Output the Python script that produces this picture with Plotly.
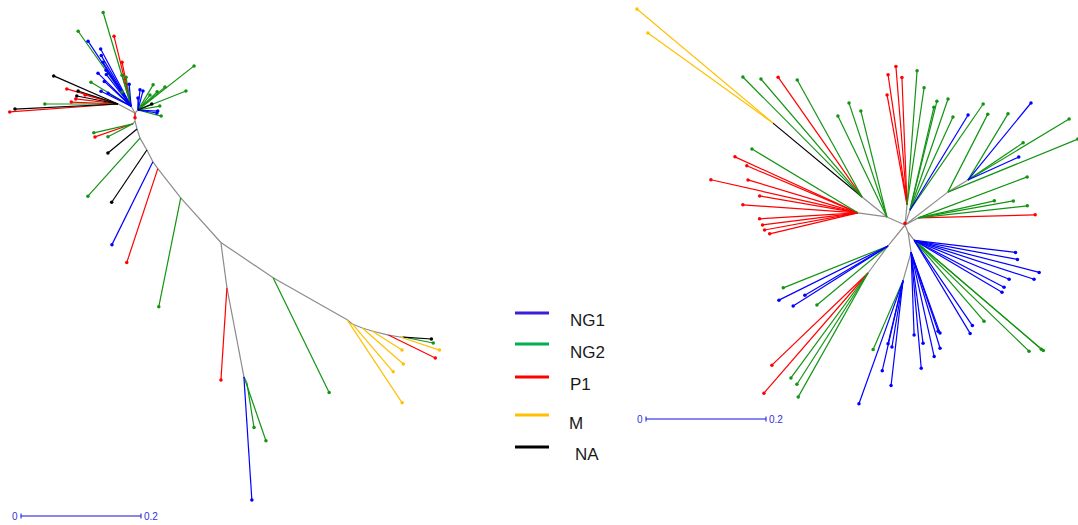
import math
import plotly.graph_objects as go

# Branch lengths are in substitutions/site; 0.2 units -> 120 px on screen.
PX_PER_UNIT = 600

GROUP_COLORS = {"NG1": "#0000FF", "NG2": "#129412", "P1": "#FF0000",
                "M": "#FFC000", "NA": "#000000", "": "#8C8C8C"}
LEGEND_GROUPS = ["NG1", "NG2", "P1", "M", "NA"]
LEGEND_COLORS = ["#3A1FD6", "#00B050", "#FF0000", "#FFC000", "#000000"]

# ---------------- left tree ----------------
left_root_xy = (135, 113)
left_node_name = ["B0", "B1", "B2", "B3", "B4", "B5", "B6", "B7", "B8", "B9", "B10",
                  "C1", "C2", "C3", "C4", "C5", "C6", "B12", "B13", "B14", "B1b",
                  "U", "Lf", "R"]
left_node_parent = [None, "B0", "B1", "B2", "B3", "B4", "B5", "B6", "B7", "B8", "B9",
                    "B10", "C1", "C2", "C3", "C4", "C5", "B8", "B12", "B13", "B1",
                    "B0", "B0", "B0"]
left_node_len = [0, 0.013, 0.014, 0.016, 0.023, 0.022, 0.014, 0.062, 0.100, 0.105, 0.142,
                 0.011, 0.018, 0.017, 0.028, 0.020, 0.005, 0.076, 0.151, 0.011, 0.006,
                 0.013, 0.032, 0.007]
left_node_angle = [0, -90, -76, -72, -60, -63, -54, -52, -48, -34, -29.6,
                   -39, -22, -17, -14, -9.5, 0, -82.4, -79.2, -63, -123.7,
                   120, 152.1, 45]
left_node_group = [""] * len(left_node_name)

left_leaf_parent = [
    "B0",
    "U", "U", "U", "U", "U", "U", "U", "U", "U", "U",
    "U", "U", "U", "U", "U", "U", "U", "U", "U",
    "Lf", "Lf", "Lf", "Lf", "Lf", "Lf", "Lf", "Lf", "Lf", "Lf",
    "R", "R", "R", "R", "R", "R", "R", "R", "R", "R", "R", "R", "R", "R",
    "B1b", "B1b", "B1b",
    "B2", "B3", "B4", "B5", "B6", "B7", "B9",
    "B10", "C1", "C2", "C3", "C4", "C5", "C6", "C6",
    "B12", "B13", "B13", "B14",
]
left_leaf_group = [
    "P1",
    "NG2", "NG2", "NG1", "P1", "NG1", "NG1", "NG1", "NG1", "NG1", "NG1",
    "P1", "NG2", "NG2", "NG2", "NG2", "NG1", "NG1", "NG1", "NG1",
    "NA", "P1", "NA", "NA", "P1", "P1", "NG2", "NA", "P1", "P1",
    "NG2", "NG2", "NG2", "NG2", "NG2", "NG1", "NG1", "NG1", "NA", "NG1", "NG1", "NG2", "NG2", "NG2",
    "NG2", "P1", "NG2",
    "NA", "NG2", "NA", "NG1", "P1", "NG2", "NG2",
    "M", "M", "M", "M", "P1", "M", "NG2", "NA",
    "P1", "NG1", "NG2", "NG2",
]
left_leaf_angle = [
    -90,
    106.6, 125.2, 123.5, 103.7, 120.5, 122.5, 135, 137.2, 153.4, 150.5,
    101.6, 149, 106.2, 99.8, 122.7, 124.8, 118, 128, 95,
    156.4, 163.6, 162, 169, 177.6, 173.2, 180, -177.2, -175.8, 164.7,
    38.2, 21.6, 59, 40.4, 51.3, 84.3, 75.3, 90, 23.2, -2.9, -9, -14.6, 43.5, 10.3,
    -167, -161, -152.5,
    -140.4, -131.9, -124, -116.3, -108.3, -101.4, -64,
    -56.5, -49.5, -41.3, -32.3, -26, -18.4, -11.3, -4,
    -93.7, -86.3, -71, -81,
]
left_leaf_len = [
    0.008,
    0.163, 0.153, 0.130, 0.120, 0.098, 0.087, 0.078, 0.061, 0.056, 0.044,
    0.075, 0.078, 0.054, 0.049, 0.028, 0.073, 0.108, 0.067, 0.037,
    0.117, 0.089, 0.070, 0.070, 0.078, 0.071, 0.122, 0.172, 0.181, 0.057,
    0.119, 0.086, 0.049, 0.059, 0.032, 0.034, 0.033, 0.020, 0.025, 0.033, 0.032, 0.040, 0.044, 0.037,
    0.067, 0.067, 0.047,
    0.063, 0.130, 0.105, 0.154, 0.165, 0.185, 0.213,
    0.166, 0.105, 0.091, 0.059, 0.087, 0.069, 0.051, 0.047,
    0.154, 0.206, 0.113, 0.076,
]

# ---------------- right tree ----------------
right_root_xy = (905, 225)
right_node_name = ["H", "UL", "RED", "LONG", "Y", "TOP", "A", "B", "C", "D",
                   "DN", "BR", "DM", "DL", "LL", "L2"]
right_node_parent = [None, "H", "UL", "UL", "LONG", "H", "H", "H", "B", "H",
                     "H", "DN", "DN", "DM", "H", "LL"]
right_node_len = [0, 0.033, 0.049, 0.053, 0.193, 0.034, 0.026, 0.090, 0.039, 0.025,
                  0.013, 0.017, 0.034, 0.049, 0.045, 0.056]
right_node_angle = [0, 156, 172, 141.3, 140.3, 84.3, 71.6, 37.5, 31, 28.3,
                    -66.8, -53, -81.5, -105.9, -129, -126.5]
right_node_group = ["", "", "", "", "NA", "", "", "", "", "",
                    "", "", "", "", "", ""]

right_leaf_parent = [
    "H",
    "LONG", "LONG", "LONG", "LONG",
    "Y", "Y",
    "RED", "RED", "RED", "RED", "RED", "RED", "RED", "RED", "RED", "RED", "RED",
    "UL", "UL", "UL",
    "TOP", "TOP", "TOP", "TOP", "TOP", "TOP",
    "A", "A", "A", "A", "A", "A",
    "B", "B",
    "C", "C", "C", "C", "C",
    "D", "D", "D", "D", "D",
    "BR", "BR", "BR", "BR", "BR", "BR", "BR", "BR", "BR", "BR", "BR", "BR", "BR",
    "DM", "DM", "DM", "DM", "DM", "DM", "DM",
    "DL", "DL", "DL", "DL", "DL", "DL",
    "LL", "LL", "LL", "LL", "LL",
    "L2", "L2", "L2", "L2", "L2",
]
right_leaf_group = [
    "P1",
    "NG2", "NG2", "P1", "NG2",
    "M", "M",
    "NG2", "P1", "P1", "P1", "P1", "P1", "P1", "P1", "P1", "P1", "P1",
    "NG2", "NG2", "NG2",
    "P1", "P1", "P1", "P1", "NG2", "NG2",
    "NG2", "NG2", "NG2", "NG2", "NG1", "NG2",
    "NG2", "NG2",
    "NG1", "NG2", "NG2", "NG1", "NG2",
    "NG2", "NG2", "NG2", "NG2", "P1",
    "NG1", "NG1", "NG1", "NG1", "NG1", "NG1", "NG1", "NG2", "NG1", "NG1", "NG2", "NG2", "NG2",
    "NG1", "NG1", "NG1", "NG1", "NG1", "NG1", "NG1",
    "NG1", "NG1", "NG2", "NG1", "NG1", "NG1",
    "NG2", "NG1", "NG1", "NG1", "NG2",
    "P1", "P1", "NG2", "NG2", "NG2",
]
right_leaf_angle = [
    90,
    134.8, 130.6, 125, 119,
    140, 144.2,
    148.9, 155.5, 157, 167.3, 163.3, 170.2, 176, -176.5, -172.8, -169.6, -166.6,
    115.9, 108.4, 103.8,
    94.6, 98.3, 92.3, 100.3, 85.7, 81.7,
    76.1, 76.9, 71.1, 65.2, 58.6, 55.4,
    62.9, 22.2,
    50.7, 58.8, 34, 24.3, 31.1,
    20.6, 12.6, 10.1, 6.3, 1.5,
    -6.8, -10.5, -14.4, -18, -22.3, -27.6, -30.6, -49.2, -55.7, -59, -44, -40.6, -40.5,
    -87.9, -82.5, -77.5, -85, -71.1, -70.3, -73.2,
    -103.4, -99.5, -113.5, -96.5, -109.7, -103,
    -158.2, -153.6, -149.4, -147.7, -140.3,
    -136.2, -130.9, -126.3, -122.6, -119.4,
]
right_leaf_len = [
    0.003,
    0.282, 0.259, 0.244, 0.223,
    0.296, 0.257,
    0.206, 0.225, 0.201, 0.251, 0.191, 0.166, 0.192, 0.164, 0.160, 0.158, 0.151,
    0.187, 0.200, 0.182,
    0.231, 0.219, 0.212, 0.186, 0.224, 0.197,
    0.187, 0.176, 0.196, 0.171, 0.186, 0.215,
    0.146, 0.234,
    0.166, 0.129, 0.111, 0.093, 0.197,
    0.194, 0.130, 0.161, 0.183, 0.195,
    0.170, 0.175, 0.215, 0.210, 0.171, 0.169, 0.170, 0.178, 0.172, 0.181, 0.266, 0.279, 0.283,
    0.138, 0.153, 0.178, 0.194, 0.139, 0.143, 0.167,
    0.108, 0.112, 0.125, 0.176, 0.218, 0.154,
    0.188, 0.203, 0.161, 0.187, 0.154,
    0.222, 0.265, 0.217, 0.220, 0.237,
]

# Scale bar and legend placement (screen px)
left_scale_xy = (21, 516)
right_scale_xy = (646, 419)
scale_bar_value = 0.2
legend_x = 515
legend_line_y = [313, 344, 377, 415, 447]
legend_text_y = [320, 352, 384, 423, 454]
legend_text_x = [568, 568, 568, 567, 573]


def step(xy, length, angle):
    r = math.radians(angle)
    return (xy[0] + length * PX_PER_UNIT * math.cos(r),
            xy[1] - length * PX_PER_UNIT * math.sin(r))


def build_tree(root_xy, names, parents, lens, angles, groups,
               leaf_parents, leaf_groups, leaf_angles, leaf_lens):
    pos = {}
    segs = {}
    for n, p, l, a, g in zip(names, parents, lens, angles, groups):
        if p is None:
            pos[n] = root_xy
            continue
        pos[n] = step(pos[p], l, a)
        segs.setdefault(g, []).append((pos[p], pos[n]))
    tips = {}
    leaf_segs = {}
    for p, g, a, l in zip(leaf_parents, leaf_groups, leaf_angles, leaf_lens):
        end = step(pos[p], l, a)
        leaf_segs.setdefault(g, []).append((pos[p], end))
        tips.setdefault(g, []).append(end)
    return segs, leaf_segs, tips


fig = go.Figure()


def add_segments(seg_dict, width):
    for g, segs in seg_dict.items():
        xs, ys = [], []
        for (x0, y0), (x1, y1) in segs:
            xs += [x0, x1, None]
            ys += [y0, y1, None]
        fig.add_trace(go.Scatter(x=xs, y=ys, mode="lines", hoverinfo="skip",
                                 line=dict(color=GROUP_COLORS[g], width=width),
                                 showlegend=False))


trees = [
    build_tree(left_root_xy, left_node_name, left_node_parent, left_node_len,
               left_node_angle, left_node_group, left_leaf_parent, left_leaf_group,
               left_leaf_angle, left_leaf_len),
    build_tree(right_root_xy, right_node_name, right_node_parent, right_node_len,
               right_node_angle, right_node_group, right_leaf_parent, right_leaf_group,
               right_leaf_angle, right_leaf_len),
]

for segs, leaf_segs, tips in trees:
    add_segments(segs, 1.2)
for segs, leaf_segs, tips in trees:
    add_segments(leaf_segs, 1.2)
for segs, leaf_segs, tips in trees:
    for g, pts in tips.items():
        fig.add_trace(go.Scatter(x=[p[0] for p in pts], y=[p[1] for p in pts],
                                 mode="markers", hoverinfo="skip", showlegend=False,
                                 marker=dict(color=GROUP_COLORS[g], size=3.5,
                                             line=dict(width=0))))

# Scale bars
annotations = []
for sx, sy in (left_scale_xy, right_scale_xy):
    length_px = scale_bar_value * PX_PER_UNIT
    fig.add_trace(go.Scatter(x=[sx, sx + length_px], y=[sy, sy], mode="lines",
                             line=dict(color="#1010E0", width=1.2),
                             hoverinfo="skip", showlegend=False))
    for tx in (sx, sx + length_px):
        fig.add_trace(go.Scatter(x=[tx, tx], y=[sy - 2.5, sy + 2.5], mode="lines",
                                 line=dict(color="#1010E0", width=1),
                                 hoverinfo="skip", showlegend=False))
    annotations.append(dict(x=sx - 1, y=sy, text="0", showarrow=False, xanchor="right",
                            yanchor="middle", font=dict(size=10, color="#3030E0",
                                                        family="Liberation Sans")))
    annotations.append(dict(x=sx + length_px + 1, y=sy, text=str(scale_bar_value),
                            showarrow=False, xanchor="left", yanchor="middle",
                            font=dict(size=10, color="#3030E0", family="Liberation Sans")))

# Legend
for name, col, ly, ty, tx in zip(LEGEND_GROUPS, LEGEND_COLORS, legend_line_y,
                                 legend_text_y, legend_text_x):
    fig.add_trace(go.Scatter(x=[legend_x, legend_x + 34], y=[ly, ly], mode="lines",
                             line=dict(color=col, width=3), hoverinfo="skip",
                             showlegend=False))
    annotations.append(dict(x=tx, y=ty, text=name, showarrow=False, xanchor="left",
                            yanchor="middle",
                            font=dict(size=17, color="#1a1a1a", family="Liberation Sans")))

fig.update_layout(
    width=1078, height=525,
    margin=dict(l=0, r=0, t=0, b=0),
    paper_bgcolor="white", plot_bgcolor="white",
    xaxis=dict(range=[0, 1078], visible=False, fixedrange=True),
    yaxis=dict(range=[525, 0], visible=False, fixedrange=True),
    annotations=annotations,
    showlegend=False,
)

fig.write_html("out.html")
